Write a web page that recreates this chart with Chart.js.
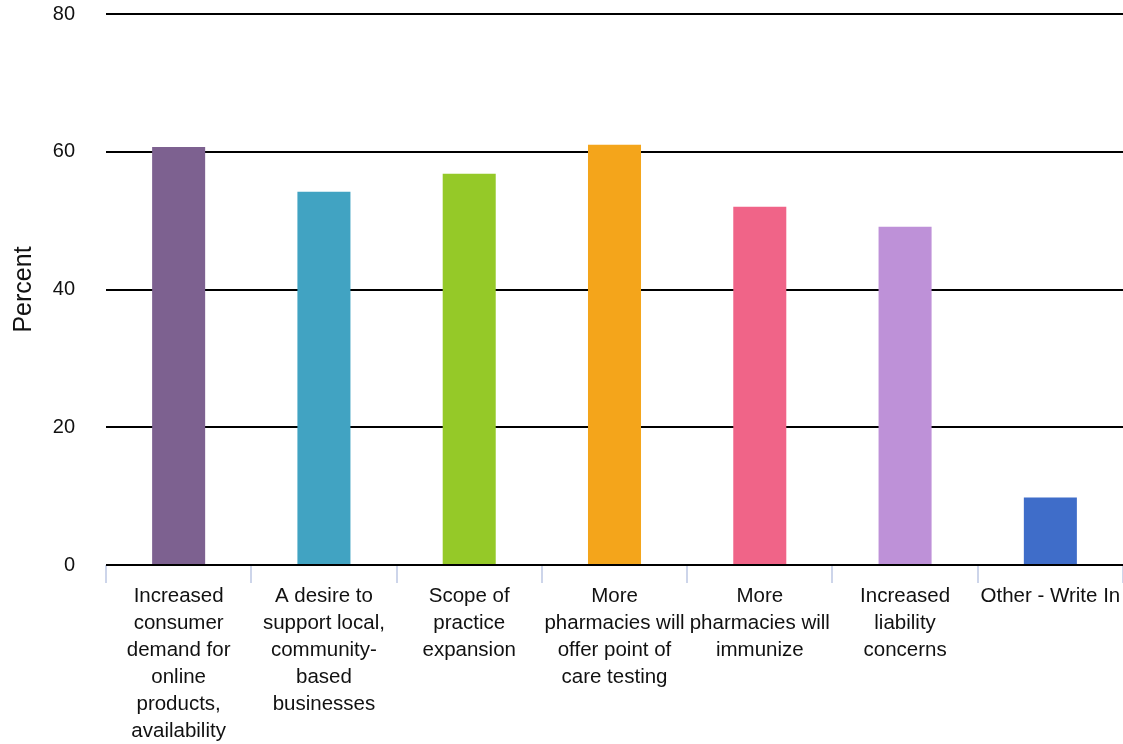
<!DOCTYPE html>
<html>
<head>
<meta charset="utf-8">
<script src="https://cdn.jsdelivr.net/npm/chart.js@4/dist/chart.umd.min.js"></script>
<style>
  html, body { margin: 0; padding: 0; background: #fff; }
  #wrap { width: 1123px; height: 744px; }
</style>
</head>
<body>
<div id="wrap"><canvas id="myChart" width="1123" height="744"></canvas></div>
<script>
const categories = [
  ["Increased", "consumer", "demand for", "online", "products,", "availability"],
  ["A desire to", "support local,", "community-", "based", "businesses"],
  ["Scope of", "practice", "expansion"],
  ["More", "pharmacies will", "offer point of", "care testing"],
  ["More", "pharmacies will", "immunize"],
  ["Increased", "liability", "concerns"],
  ["Other - Write In"]
];
const percentValues = [60.7, 54.2, 56.8, 61.0, 52.0, 49.1, 9.8];
const barColors = ["#7d6190", "#41a3c2", "#95c928", "#f4a51b", "#f06488", "#be91d8", "#3f6dc9"];
const yTicks = [0, 20, 40, 60, 80];

const font = "'Liberation Sans', Arial, Helvetica, sans-serif";

var ctx = document.getElementById('myChart').getContext('2d');
var myChart = new Chart(ctx, {
  type: 'bar',
  data: {
    labels: categories,
    datasets: [{
      label: "Percent",
      data: percentValues,
      backgroundColor: barColors,
      categoryPercentage: 1,
      barPercentage: 0.365
    }]
  },
  options: {
    responsive: false,
    animation: false,
    layout: { padding: 0 },
    plugins: { legend: { display: false }, tooltip: { enabled: false } },
    scales: {
      x: {
        border: { display: false },
        afterFit: (axis) => {
          axis.height = 179;
          axis.paddingLeft = 0;
          axis.paddingRight = 0;
          axis.paddingTop = 0;
          axis.paddingBottom = 0;
        },
        grid: {
          drawOnChartArea: false,
          drawTicks: true,
          tickLength: 18,
          color: "#cdd5ea",
          lineWidth: 2
        },
        ticks: {
          color: "#111",
          font: { family: font, size: 20.5, lineHeight: 1.32 },
          maxRotation: 0,
          autoSkip: false,
          padding: 0
        }
      },
      y: {
        min: 0,
        max: 80,
        afterBuildTicks: (axis) => { axis.ticks = yTicks.map(v => ({ value: v })); },
        afterFit: (axis) => {
          axis.width = 106;
          axis.paddingTop = 14;
          axis.paddingBottom = 0;
        },
        border: { display: false },
        grid: { color: "#000", lineWidth: 2, drawTicks: false },
        ticks: {
          color: "#111",
          font: { family: font, size: 20 },
          padding: 31
        },
        title: {
          display: true,
          text: "Percent",
          color: "#111",
          font: { family: font, size: 25 },
          padding: { top: 9, bottom: 0 }
        }
      }
    }
  }
});
</script>
</body>
</html>
